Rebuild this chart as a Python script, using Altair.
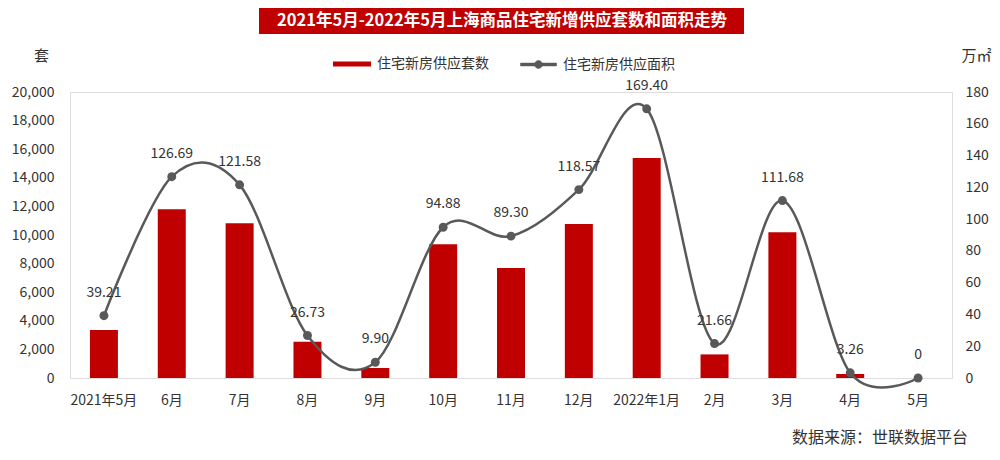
import altair as alt
import pandas as pd

months = ["2021年5月", "6月", "7月", "8月", "9月", "10月", "11月", "12月",
          "2022年1月", "2月", "3月", "4月", "5月"]
units = [3350, 11800, 10830, 2530, 700, 9350, 7700, 10770, 15380, 1650, 10200, 280, 0]
area = [39.21, 126.69, 121.58, 26.73, 9.90, 94.88, 89.30, 118.57, 169.40, 21.66, 111.68, 3.26, 0]
area_labels = ["39.21", "126.69", "121.58", "26.73", "9.90", "94.88", "89.30", "118.57",
               "169.40", "21.66", "111.68", "3.26", "0"]
bar_name = "住宅新房供应套数"
line_name = "住宅新房供应面积"
title_text = "2021年5月-2022年5月上海商品住宅新增供应套数和面积走势"
source_text = "数据来源：世联数据平台"

FONT = "Noto Sans CJK SC"
RED = "#C00000"
GRAY = "#595959"
TXT = "#333333"

df = pd.DataFrame({"month": months, "units": units, "area": area, "label": area_labels,
                   "bs": bar_name, "ls": line_name})

W, H = 882, 286

x = alt.X("month:N", sort=months, title=None,
          scale=alt.Scale(paddingInner=0, paddingOuter=0),
          axis=alt.Axis(labelAngle=0, domain=False, ticks=False, labelPadding=15,
                        labelFontSize=14, labelColor=TXT, labelFont=FONT))

bars = alt.Chart(df).mark_bar(size=28).encode(
    x=x,
    y=alt.Y("units:Q", title="套",
            scale=alt.Scale(domain=[0, 20000], nice=False),
            axis=alt.Axis(values=list(range(0, 20001, 2000)), format=",.0f", grid=False,
                          domain=False, ticks=False, labelPadding=16, labelFontSize=14,
                          labelOverlap=False,
                          labelColor=TXT, labelFont=FONT, titleAngle=0, titleX=-29,
                          titleY=-37, titleAlign="center", titleBaseline="middle",
                          titleFontSize=15, titleFontWeight="normal", titleColor=TXT,
                          titleFont=FONT)),
    fill=alt.Fill("bs:N", scale=alt.Scale(domain=[bar_name], range=[RED]),
                  legend=alt.Legend(title=None, orient="none", legendX=263, legendY=-47,
                                    symbolType="M-1,-0.13H1V0.13H-1Z", symbolSize=1444,
                                    symbolStrokeWidth=0, labelOffset=6, padding=0,
                                    labelFontSize=14, labelColor=TXT, labelFont=FONT)),
)

yr = alt.Y("area:Q", title="万㎡",
           scale=alt.Scale(domain=[0, 180], nice=False),
           axis=alt.Axis(orient="right", values=list(range(0, 181, 20)), format="d",
                         grid=False, labelOverlap=False,
                         domain=False, ticks=False, labelPadding=13, labelFontSize=14,
                         labelColor=TXT, labelFont=FONT, titleAngle=0, titleX=24,
                         titleY=-37, titleAlign="center", titleBaseline="middle",
                         titleFontSize=15, titleFontWeight="normal", titleColor=TXT,
                         titleFont=FONT))

line = alt.Chart(df).mark_line(interpolate="cardinal", strokeWidth=2.5).encode(
    x=x, y=yr,
    stroke=alt.Stroke("ls:N", scale=alt.Scale(domain=[line_name], range=[GRAY]),
                      legend=alt.Legend(title=None, orient="none", legendX=450, legendY=-46,
                                        symbolType="M-1,-0.08H1V0.08H-1Z M-0.22,0A0.22,0.22 0 1,1 0.22,0A0.22,0.22 0 1,1 -0.22,0Z",
                                        symbolSize=1296, symbolFillColor=GRAY,
                                        symbolStrokeWidth=0.5, labelOffset=6, padding=0,
                                        labelFontSize=14, labelColor=TXT, labelFont=FONT)),
)
pts = alt.Chart(df).mark_point(filled=True, size=80, color=GRAY, opacity=1).encode(x=x, y=yr)
labels = alt.Chart(df).mark_text(dy=-23, fontSize=14, color=TXT, font=FONT).encode(
    x=x, y=yr, text="label:N")

right = alt.layer(line, pts, labels)

one = pd.DataFrame({"t": [title_text], "s": [source_text]})
banner = alt.Chart(one).mark_rect(color=RED).encode(
    x=alt.value(189), x2=alt.value(674), y=alt.value(-84), y2=alt.value(-58))
banner_text = alt.Chart(one).mark_text(color="white", fontSize=16.5, fontWeight="bold",
                                       font=FONT, baseline="middle", align="center").encode(
    x=alt.value(432), y=alt.value(-71), text="t:N")
source = alt.Chart(one).mark_text(color=TXT, fontSize=16, font=FONT, align="right",
                                  baseline="middle").encode(
    x=alt.value(898), y=alt.value(346), text="s:N")

chart = alt.layer(bars, right, banner, banner_text, source).resolve_scale(
    y="independent", fill="independent", stroke="independent"
).properties(
    width=W, height=H,
    autosize=alt.AutoSizeParams(type="none"),
    padding={"left": 62, "top": 84, "right": 40, "bottom": 70},
).configure_view(stroke=None).configure(font=FONT)

chart.save("out.html", embed_options={"renderer": "svg", "actions": False})
